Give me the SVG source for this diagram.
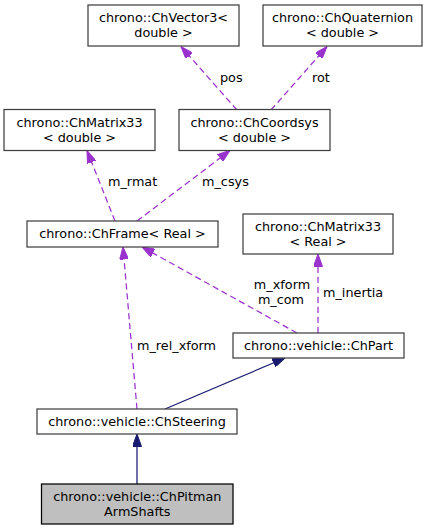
<svg xmlns="http://www.w3.org/2000/svg" width="432" height="531" viewBox="0 0 432 531">
<style>
  text { font-family: "DejaVu Sans", "Liberation Sans", sans-serif; font-size: 12.8px; fill: #000; }
  .node rect { fill: #ffffff; stroke: #404040; stroke-width: 1.25; }
  .node.hl rect { fill: #bfbfbf; stroke: #000000; }
  .node text { text-anchor: middle; }
  .mem { fill: none; stroke: #9a32cd; stroke-width: 1.25; stroke-dasharray: 6.25,3.75; }
  .inh { fill: none; stroke: #191970; stroke-width: 1.25; }
  .lbl { text-anchor: start; }
  .lblm { text-anchor: middle; }
</style>
<defs>
  <marker id="ap" viewBox="0 0 12.5 9" refX="12.5" refY="4.5" markerWidth="12.5" markerHeight="9" markerUnits="userSpaceOnUse" orient="auto">
    <path d="M0,0 L12.5,4.5 L0,9 Z" fill="#9a32cd" stroke="#9a32cd" stroke-width="1"/>
  </marker>
  <marker id="an" viewBox="0 0 12.5 9" refX="12.5" refY="4.5" markerWidth="12.5" markerHeight="9" markerUnits="userSpaceOnUse" orient="auto">
    <path d="M0,0 L12.5,4.5 L0,9 Z" fill="#191970" stroke="#191970" stroke-width="1"/>
  </marker>
</defs>
<g id="connectors">
  <path class="mem" d="M237,110 L181,46.5" marker-end="url(#ap)"/>
  <path class="mem" d="M271,110 L327,46.5" marker-end="url(#ap)"/>
  <path class="mem" d="M115,221 L87,150.5" marker-end="url(#ap)"/>
  <path class="mem" d="M137,221 L230,150.5" marker-end="url(#ap)"/>
  <path class="mem" d="M297,333 L142,247" marker-end="url(#ap)"/>
  <path class="mem" d="M318,333 L318,254" marker-end="url(#ap)"/>
  <path class="mem" d="M137,409 L123,247" marker-end="url(#ap)"/>
  <path class="inh" d="M165,409 L285,358" marker-end="url(#an)"/>
  <path class="inh" d="M137,484 L137,434" marker-end="url(#an)"/>
  <text class="lbl" x="220" y="81.5">pos</text>
  <text class="lbl" x="312" y="81.5">rot</text>
  <text class="lbl" x="108" y="185.5">m_rmat</text>
  <text class="lbl" x="202" y="185.5">m_csys</text>
  <text class="lblm" x="282" y="289">m_xform</text>
  <text class="lblm" x="281" y="304">m_com</text>
  <text class="lbl" x="323" y="297">m_inertia</text>
  <text class="lbl" x="137" y="349.5">m_rel_xform</text>
</g>
<g id="node_ChVector3" class="node">
  <rect x="88" y="5" width="151" height="41"/>
  <text x="163.5" y="22">chrono::ChVector3&lt;</text>
  <text x="163.5" y="37">double &gt;</text>
</g>
<g id="node_ChQuaternion" class="node">
  <rect x="263" y="5" width="159" height="41"/>
  <text x="342.5" y="22">chrono::ChQuaternion</text>
  <text x="342.5" y="37">&lt; double &gt;</text>
</g>
<g id="node_ChMatrix33_double" class="node">
  <rect x="4" y="109.5" width="151" height="41"/>
  <text x="79.5" y="126.5">chrono::ChMatrix33</text>
  <text x="79.5" y="141.5">&lt; double &gt;</text>
</g>
<g id="node_ChCoordsys" class="node">
  <rect x="179" y="109.5" width="151" height="41"/>
  <text x="254.5" y="126.5">chrono::ChCoordsys</text>
  <text x="254.5" y="141.5">&lt; double &gt;</text>
</g>
<g id="node_ChFrame" class="node">
  <rect x="27" y="221" width="191" height="26"/>
  <text x="122.5" y="238">chrono::ChFrame&lt; Real &gt;</text>
</g>
<g id="node_ChMatrix33_Real" class="node">
  <rect x="243" y="214" width="150" height="40"/>
  <text x="318" y="231">chrono::ChMatrix33</text>
  <text x="318" y="246">&lt; Real &gt;</text>
</g>
<g id="node_ChPart" class="node">
  <rect x="233" y="333" width="171" height="25"/>
  <text x="318.5" y="350">chrono::vehicle::ChPart</text>
</g>
<g id="node_ChSteering" class="node">
  <rect x="37" y="409" width="200" height="25"/>
  <text x="137" y="426">chrono::vehicle::ChSteering</text>
</g>
<g id="node_ChPitmanArmShafts" class="node hl">
  <rect x="41.5" y="484" width="191.5" height="40"/>
  <text x="137.25" y="501">chrono::vehicle::ChPitman</text>
  <text x="137.25" y="516">ArmShafts</text>
</g>
</svg>
